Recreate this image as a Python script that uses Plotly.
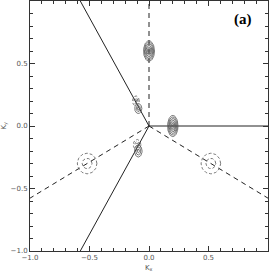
import numpy as np
import plotly.graph_objects as go

# Rays from origin (degrees) and their styles
ray_angles = [0, 120, 240, 90, 210, 330]
ray_dash = ["solid", "solid", "solid", "dash", "dash", "dash"]

# Contour blobs: centre x, centre y, semi-axis x, semi-axis y, dash
blob_x = [0.0, 0.2, -0.11, -0.09, -0.10, -0.09, -0.52, 0.52]
blob_y = [0.60, 0.0, 0.20, 0.14, -0.15, -0.20, -0.30, -0.30]
blob_ax = [0.046, 0.044, 0.028, 0.030, 0.032, 0.032, 0.082, 0.082]
blob_ay = [0.082, 0.085, 0.040, 0.040, 0.042, 0.048, 0.082, 0.082]
blob_dash = ["solid", "solid", "dash", "solid", "dash", "solid", "dash", "dash"]
blob_levels = [[1.0, 0.85, 0.7, 0.55, 0.4, 0.25, 0.1],
               [1.0, 0.85, 0.7, 0.55, 0.4, 0.25, 0.1],
               [1.0, 0.6, 0.3],
               [1.0, 0.6, 0.3],
               [1.0, 0.6, 0.3],
               [1.0, 0.65, 0.3],
               [1.0, 0.5],
               [1.0, 0.5]]

x_ticks = [-1.0, -0.5, 0.0, 0.5, 1.0]
y_ticks = [-1.0, -0.5, 0.0, 0.5, 1.0]
tick_text = ["\u22121.0", "\u22120.5", "0.0", "0.5", "1.0"]

fig = go.Figure()

for ang, d in zip(ray_angles, ray_dash):
    a = np.deg2rad(ang)
    fig.add_trace(go.Scatter(x=[0, 2 * np.cos(a)], y=[0, 2 * np.sin(a)], mode="lines",
                             line=dict(color="#222", width=1, dash=d if d == "solid" else "5px,4px"),
                             showlegend=False, hoverinfo="skip"))

t = np.linspace(0, 2 * np.pi, 60)
for cx, cy, ax_, ay_, d, levs in zip(blob_x, blob_y, blob_ax, blob_ay, blob_dash, blob_levels):
    for s in levs:
        fig.add_trace(go.Scatter(x=cx + s * ax_ * np.cos(t), y=cy + s * ay_ * np.sin(t), mode="lines",
                                 line=dict(color="#555", width=0.8, dash=d if d == "solid" else "3px,2px"),
                                 showlegend=False, hoverinfo="skip"))

axis_common = dict(range=[-1, 1], showgrid=False, zeroline=False, showline=True, linecolor="#333",
                   linewidth=1, mirror="ticks", ticks="inside", ticklen=5, tickcolor="#333",
                   automargin=False,
                   tickfont=dict(family="DejaVu Sans", size=7, color="#555"),
                   minor=dict(dtick=0.1, ticks="inside", ticklen=3, tickcolor="#333"))

fig.update_xaxes(**axis_common, tickvals=x_ticks, ticktext=tick_text)
fig.update_yaxes(**axis_common, tickvals=y_ticks, ticktext=tick_text)

label_font = dict(family="DejaVu Sans", size=7, color="#555")
fig.add_annotation(xref="paper", yref="paper", x=0.5, y=0, yshift=-11, yanchor="top",
                   text="K<sub>x</sub>", showarrow=False, font=label_font)
fig.add_annotation(xref="paper", yref="paper", x=0, y=0.5, xshift=-20, xanchor="right",
                   text="K<sub>y</sub>", showarrow=False, font=label_font, textangle=-90)

fig.add_annotation(x=0.79, y=0.85, text="<b>(a)</b>", showarrow=False,
                   font=dict(family="Liberation Serif, Times New Roman, serif", size=15, color="black"))

fig.update_layout(width=273, height=273, margin=dict(l=30, r=5, t=1, b=22, autoexpand=False),
                  plot_bgcolor="white", paper_bgcolor="white")

fig.write_html("out.html", config={"displayModeBar": False},
               post_script="document.body.style.margin='0';")
